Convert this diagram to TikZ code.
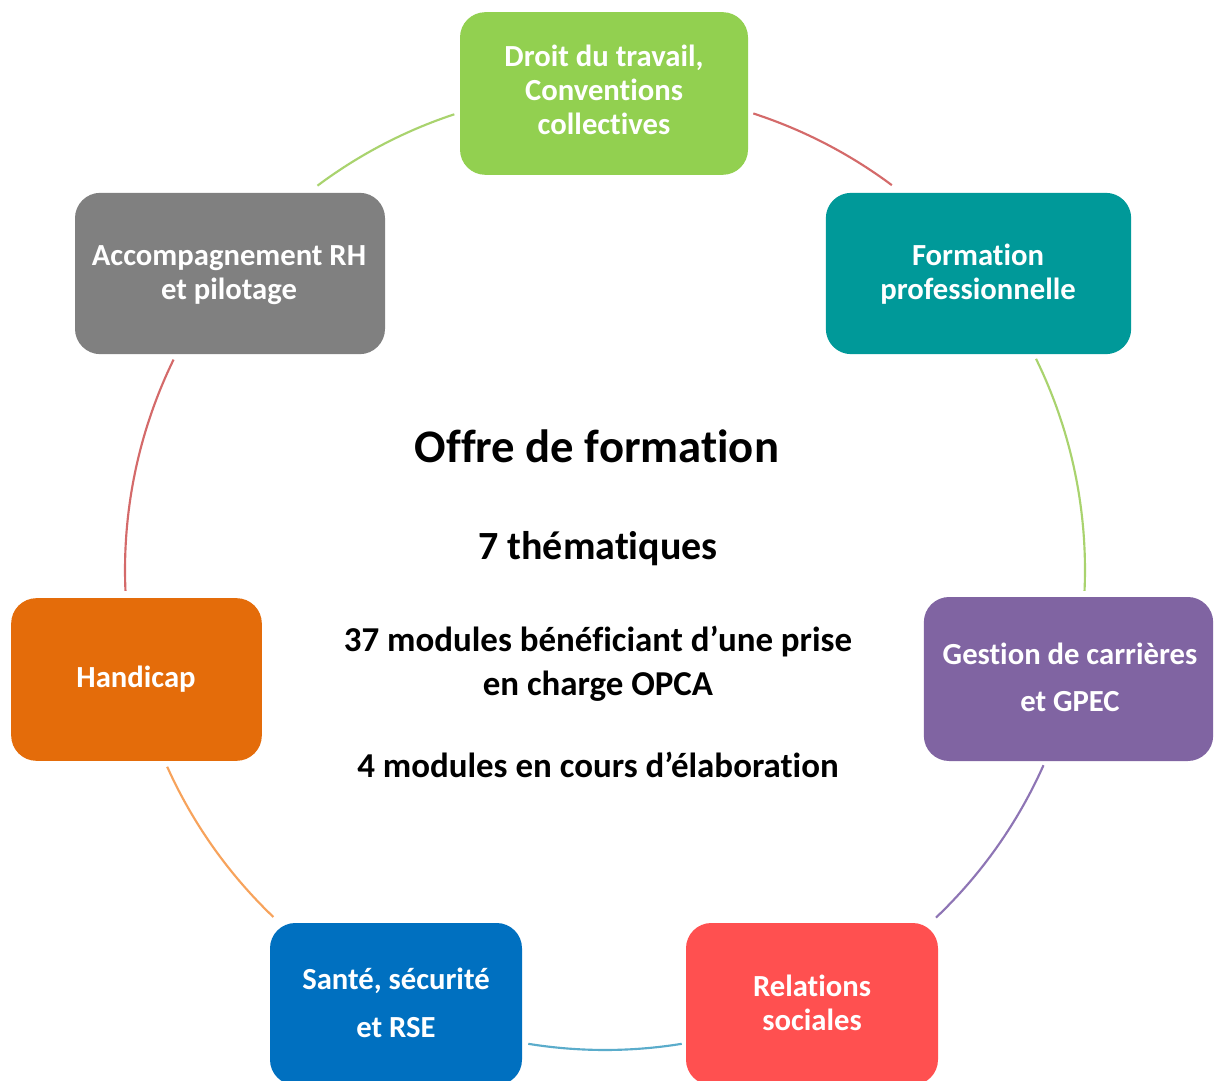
\documentclass[tikz,border=0pt]{standalone}
\usepackage{fontspec}
\setmainfont{Carlito}[Ligatures=NoCommon]
\usetikzlibrary{calc}
\begin{document}
\begin{tikzpicture}[x=0.75pt,y=-0.75pt,
  box/.style={draw=none,rounded corners=19pt,inner sep=0pt},
  boxtext/.style={text=white,font=\fontsize{23}{25}\selectfont\bfseries,anchor=base,inner sep=0pt},
  ctext/.style={text=black,anchor=base,inner sep=0pt},
  ring/.style={line width=1.6pt}]
\definecolor{cGreen}{HTML}{92D050}
\definecolor{cTeal}{HTML}{009999}
\definecolor{cPurple}{HTML}{8064A2}
\definecolor{cRed}{HTML}{FF5050}
\definecolor{cBlue}{HTML}{0070C0}
\definecolor{cOrange}{HTML}{E46C0A}
\definecolor{cGray}{HTML}{808080}
\definecolor{aGreen}{HTML}{A9D36E}
\definecolor{aRed}{HTML}{D46A6A}
\definecolor{aPurple}{HTML}{8E75B5}
\definecolor{aBlue}{HTML}{5AACCB}
\definecolor{aOrange}{HTML}{F7A35C}
\useasboundingbox (0,0) rectangle (1215,1081);
\clip (0,0) rectangle (1215,1081);
\fill[white] (0,0) rectangle (1215,1081);
\coordinate (ctr) at (605,570);
% ring segments
\coordinate (s1) at ($(ctr)+(-126.8:480)$);
\coordinate (s2) at ($(ctr)+(-72.0:480)$);
\coordinate (s3) at ($(ctr)+(-26.1:480)$);
\coordinate (s4) at ($(ctr)+(24.0:480)$);
\coordinate (s5) at ($(ctr)+(80.8:480)$);
\coordinate (s6) at ($(ctr)+(133.7:480)$);
\coordinate (s7) at ($(ctr)+(177.5:480)$);
\draw[ring,aGreen] (s1) arc[start angle=-126.8,end angle=-108.3,radius=480];
\draw[ring,aRed] (s2) arc[start angle=-72.0,end angle=-53.3,radius=480];
\draw[ring,aGreen] (s3) arc[start angle=-26.1,end angle=2.5,radius=480];
\draw[ring,aPurple] (s4) arc[start angle=24.0,end angle=46.4,radius=480];
\draw[ring,aBlue] (s5) arc[start angle=80.8,end angle=99.2,radius=480];
\draw[ring,aOrange] (s6) arc[start angle=133.7,end angle=155.8,radius=480];
\draw[ring,aRed] (s7) arc[start angle=177.5,end angle=206.0,radius=480];
% boxes
\node[box,fill=cGreen,minimum width=216pt,minimum height=122pt] (b1) at (604,93.5) {};
\node[box,fill=cTeal,minimum width=229pt,minimum height=121pt] (b2) at (978.5,273.5) {};
\node[box,fill=cPurple,minimum width=217pt,minimum height=123pt] (b3) at (1068.5,679) {};
\node[box,fill=cRed,minimum width=189pt,minimum height=121.5pt] (b4) at (812,1004) {};
\node[box,fill=cBlue,minimum width=189pt,minimum height=121.5pt] (b5) at (396,1004) {};
\node[box,fill=cOrange,minimum width=188pt,minimum height=122pt] (b6) at (136.5,679.5) {};
\node[box,fill=cGray,minimum width=232.5pt,minimum height=121pt] (b7) at (230,273.5) {};
% box texts
\node[boxtext] (t1a) at (604,67) {Droit du travail,};
\node[boxtext] (t1b) at (604,101) {Conventions};
\node[boxtext] (t1c) at (604,135) {collectives};
\node[boxtext] (t2a) at (978,265) {Formation};
\node[boxtext] (t2b) at (978,299) {professionnelle};
\node[boxtext] (t3a) at (1070,664) {Gestion de carrières};
\node[boxtext] (t3b) at (1070,711) {et GPEC};
\node[boxtext] (t4a) at (812,996) {Relations};
\node[boxtext] (t4b) at (812,1030) {sociales};
\node[boxtext] (t5a) at (396,989) {Santé, sécurité};
\node[boxtext] (t5b) at (396,1037) {et RSE};
\node[boxtext] (t6a) at (136,687) {Handicap};
\node[boxtext] (t7a) at (229,265) {Accompagnement RH};
\node[boxtext] (t7b) at (229,299) {et pilotage};
% center text
\node[ctext,font=\fontsize{35}{40}\selectfont\bfseries] (title) at (597,462) {Offre de formation};
\node[ctext,font=\fontsize{30}{36}\selectfont\bfseries] (sub) at (598,559) {7 thématiques};
\node[ctext,font=\fontsize{26.2}{33}\selectfont\bfseries] (m1) at (598,651) {37 modules bénéficiant d’une prise};
\node[ctext,font=\fontsize{26.2}{33}\selectfont\bfseries] (m2) at (598,695) {en charge OPCA};
\node[ctext,font=\fontsize{26.2}{33}\selectfont\bfseries] (m3) at (598,777) {4 modules en cours d’élaboration};
\end{tikzpicture}
\end{document}
